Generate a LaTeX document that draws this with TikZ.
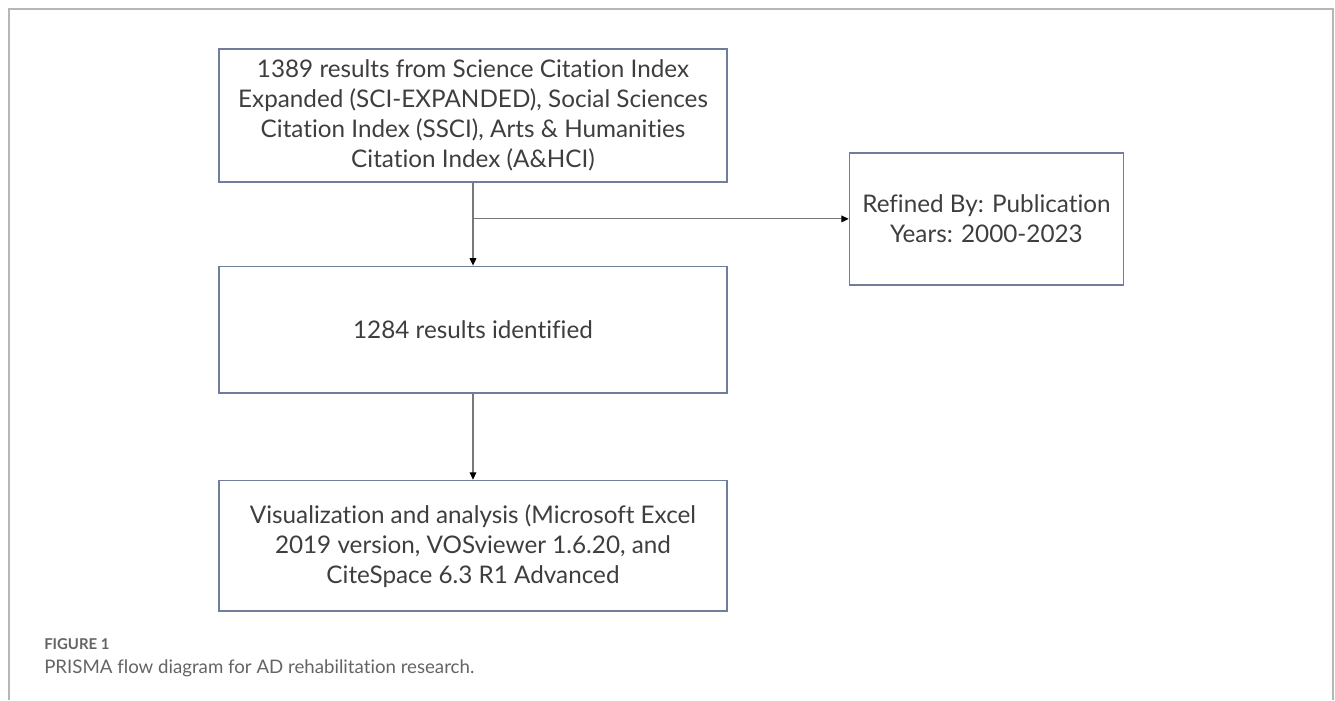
\documentclass[tikz,border=0pt]{standalone}
\usepackage{fontspec}
\setmainfont{Lato}[Ligatures=CommonOff]
\usetikzlibrary{positioning,arrows.meta}
\definecolor{boxblue}{RGB}{112,126,156}
\definecolor{txtgray}{RGB}{62,62,62}
\definecolor{framegray}{RGB}{182,182,182}
\definecolor{linegray}{RGB}{120,120,120}
\definecolor{capgray}{RGB}{100,100,100}

\begin{document}
\begin{tikzpicture}[
    x=0.75pt, y=-0.75pt,
    node distance=62pt and 90pt,
 flowbox/.style = {
        draw=boxblue, line width=1.1pt, rectangle, align=center,
        minimum width=381pt, text=txtgray,
        font=\fontsize{18.2}{22.5}\selectfont, inner sep=4pt},
  sidebox/.style = {
        flowbox, minimum width=205.5pt, minimum height=99pt},
 captext/.style = {
        anchor=base west, inner sep=0pt, text=capgray},
    arrow/.style = {draw=linegray, line width=0.8pt,
        -{Triangle[length=5.5pt,width=5pt,color=black]}}
                    ]
\useasboundingbox (0,0) rectangle (1335,700);
% the frame round the figure, open at the bottom
\draw[framegray, line width=1.6pt] (9,700) -- (9,9) -- (1333,9) -- (1333,700);
% the chain in the center
\node (found) [flowbox, minimum height=100pt] at (473,115.5)
        {1389 results from Science Citation Index\\
         Expanded (SCI-EXPANDED), Social Sciences\\
         Citation Index (SSCI), Arts \& Humanities\\
         Citation Index (A\&HCI)};
\node (ident) [flowbox, minimum height=95pt, below=of found]
        {1284 results identified};
\node (visual) [flowbox, minimum height=98pt, below=64.5pt of ident]
        {Visualization and analysis (Microsoft Excel\\
         2019 version, VOSviewer 1.6.20, and\\
         CiteSpace 6.3 R1 Advanced};
% the branch to the right
\node (refine) [sidebox, right=90.75pt of found.south east, yshift=-27pt]
        {Refined By: Publication\\ Years: 2000-2023};
% connectors
\draw[arrow] (found) -- (ident);
\draw[arrow] (found.south |- refine.west) -- (refine.west);
\draw[arrow] (ident) -- (visual);
% the caption
\node (capnum) [captext, font=\fontsize{11.2}{12}\selectfont\bfseries]
        at (44,649) {FIGURE 1};
\node (capline) [captext, font=\fontsize{14}{16}\selectfont]
        at (44,673) {PRISMA flow diagram for AD rehabilitation research.};
\end{tikzpicture}
\end{document}
